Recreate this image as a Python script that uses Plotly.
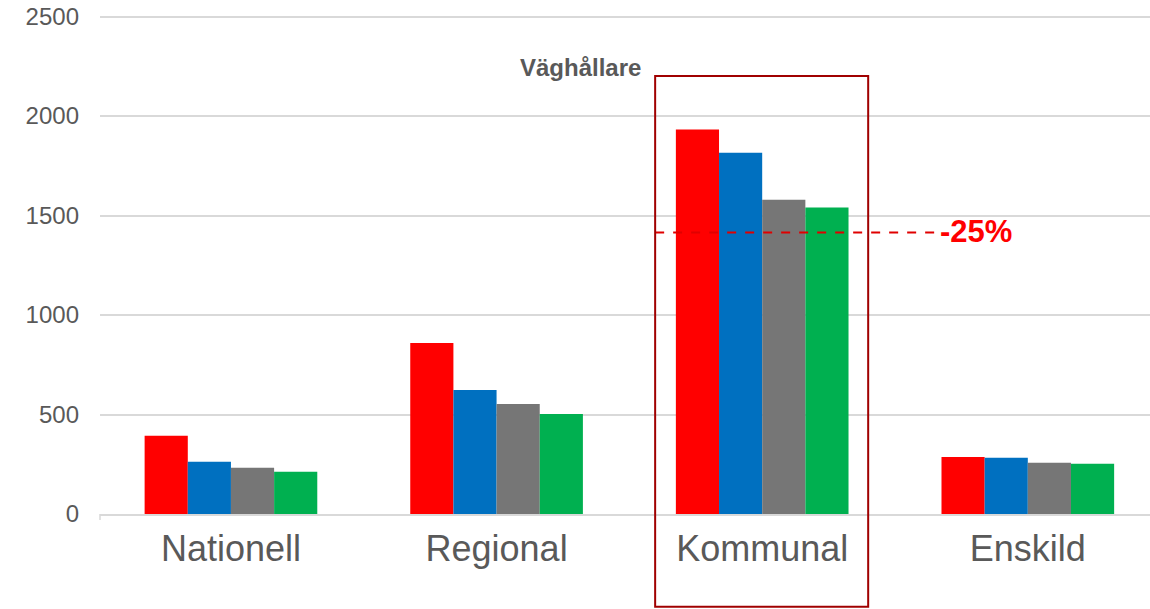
import plotly.graph_objects as go

categories = ["Nationell", "Regional", "Kommunal", "Enskild"]
series_names = ["Serie 1", "Serie 2", "Serie 3", "Serie 4"]
series_colors = ["#FF0000", "#0070C0", "#767676", "#00B050"]
series_values = [
    [393, 860, 1932, 287],
    [262, 623, 1816, 283],
    [232, 553, 1580, 257],
    [212, 503, 1540, 252],
]
y_ticks = [0, 500, 1000, 1500, 2000, 2500]
reference_level = 1415
change_label = "-25%"

fig = go.Figure()

for name, color, values in zip(series_names, series_colors, series_values):
    fig.add_trace(go.Bar(
        x=categories,
        y=values,
        name=name,
        marker=dict(color=color, line=dict(width=0)),
        hoverinfo="x+y+name",
    ))

# dashed reference line and label
fig.add_shape(type="line", xref="x", yref="y",
              x0=1.597, x1=2.651, y0=reference_level, y1=reference_level,
              line=dict(color="#E00000", width=2, dash="dash"))
fig.add_annotation(x=2.651, y=reference_level, xref="x", yref="y",
                   text="<b>" + change_label + "</b>", showarrow=False,
                   xanchor="left", xshift=3, yshift=1,
                   font=dict(size=31, color="#FF0000", family="Arial"))

# highlight box around Kommunal
fig.add_shape(type="rect", xref="x", yref="paper",
              x0=1.597, x1=2.399, y0=-0.186, y1=0.878,
              line=dict(color="#A00000", width=2), layer="above")

# small tick at the left end of the category axis
fig.add_shape(type="line", xref="paper", yref="paper",
              x0=0, x1=0, y0=0, y1=-0.012,
              line=dict(color="#D9D9D9", width=1.5))

fig.add_annotation(x=0.458, y=0.925, xref="paper", yref="paper",
                   text="<b>Väghållare</b>", showarrow=False,
                   font=dict(size=24, color="#595959", family="Arial"))

fig.update_layout(
    width=1150,
    height=609,
    barmode="group",
    bargap=0.35,
    bargroupgap=0,
    showlegend=False,
    plot_bgcolor="white",
    paper_bgcolor="white",
    font=dict(family="Arial", color="#595959"),
    margin=dict(l=100, r=0, t=15, b=95),
)

# range a bit above 2500 so the top gridline is still drawn
fig.update_yaxes(
    range=[0, 2508],
    tickvals=y_ticks,
    tickfont=dict(size=24, color="#595959"),
    showgrid=True,
    gridcolor="#D9D9D9",
    gridwidth=1.5,
    zeroline=False,
    ticklabelstandoff=20,
)

# the original plot area runs a little past the right edge of the window
fig.update_xaxes(
    range=[-0.493, 3.460],
    tickfont=dict(size=36, color="#595959"),
    showline=True,
    linecolor="#D9D9D9",
    linewidth=1.5,
    ticklabelstandoff=2,
)

# drop the default body margin so the figure fills the window
fig.write_html("out.html", config={"displayModeBar": False},
               post_script="document.body.style.margin='0px';")
